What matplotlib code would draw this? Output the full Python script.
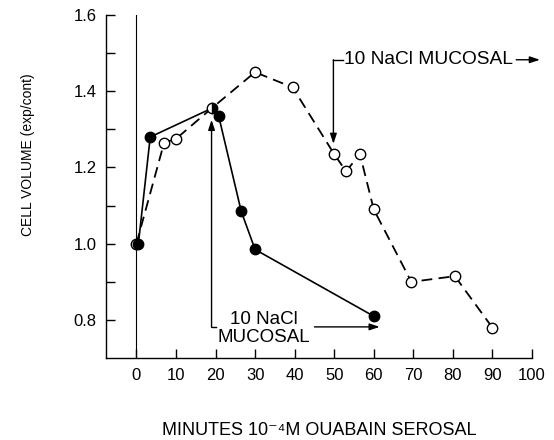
import matplotlib
matplotlib.use("Agg")
import matplotlib.pyplot as plt

plt.rcParams['font.family'] = ['Liberation Sans', 'DejaVu Sans']

# Data
open_x = [0, 7, 10, 19, 30, 39.5, 50, 53, 56.5, 60, 69.5, 80.5, 90]
open_y = [1.0, 1.265, 1.275, 1.355, 1.45, 1.41, 1.235, 1.19, 1.235, 1.09, 0.90, 0.915, 0.78]
filled_x = [0.5, 3.5, 19, 20.8, 26.5, 30, 60]
filled_y = [1.0, 1.28, 1.355, 1.335, 1.085, 0.985, 0.81]
shared_idx = 2  # filled point shared with open series (half-filled marker)

x_ticks = [0, 10, 20, 30, 40, 50, 60, 70, 80, 90, 100]
y_major = [0.8, 1.0, 1.2, 1.4, 1.6]
y_minor = [0.9, 1.1, 1.3, 1.5]

fig = plt.figure(figsize=(5.54, 4.40), dpi=100)
ax = fig.add_axes([0.1922, 0.186, 0.7681, 0.780])

# vertical line at time zero
ax.axvline(0, color='black', lw=0.8, zorder=1)

# filled series (solid)
ax.plot(filled_x, filled_y, '-', color='black', lw=1.2, zorder=2)
# open series (dashed)
ax.plot(open_x, open_y, '--', color='black', lw=1.3, dashes=(6, 3.5), zorder=2)

shared_x = filled_x[shared_idx]
# open markers
ox = [x for x in open_x if x != shared_x]
oy = [y for x, y in zip(open_x, open_y) if x != shared_x]
ax.plot(ox, oy, 'o', ms=7.5, mfc='white', mec='black', mew=1.0, ls='none', zorder=3)
# filled markers
fx = [x for i, x in enumerate(filled_x) if i != shared_idx]
fy = [y for i, y in enumerate(filled_y) if i != shared_idx]
ax.plot(fx, fy, 'o', ms=7.5, mfc='black', mec='black', mew=1.0, ls='none', zorder=4)
# half-filled shared marker
ax.plot([shared_x], [filled_y[shared_idx]], 'o', ms=7.5, fillstyle='right',
        mfc='black', mfcalt='white', mec='black', mew=1.0, ls='none', zorder=5)

ax.set_xlim(-7.56, 100)
ax.set_ylim(0.7, 1.6)
ax.set_xticks(x_ticks)
ax.set_xticklabels([str(t) for t in x_ticks])
ax.set_yticks(y_major)
ax.set_yticklabels([f"{t:.1f}" for t in y_major])
ax.set_yticks(y_minor, minor=True)

for s in ['top', 'right']:
    ax.spines[s].set_visible(False)
for s in ['left', 'bottom']:
    ax.spines[s].set_linewidth(1.0)

ax.tick_params(axis='both', which='both', direction='in', length=6.5, width=1.0, labelsize=12)
ax.tick_params(axis='y', pad=7)
ax.tick_params(axis='x', pad=7)

ax.set_ylabel('CELL VOLUME (exp/cont)', fontsize=10)
ax.yaxis.set_label_coords(-0.168, 0.592)
ax.set_xlabel('MINUTES 10\u207b\u2074M OUABAIN SEROSAL', fontsize=13, labelpad=28)

head = '-|>,head_length=0.6,head_width=0.2'
# lower annotation
ax.annotate('', xy=(19, 1.325), xytext=(19, 0.781),
            arrowprops=dict(arrowstyle=head, color='black', lw=1.0, shrinkA=0, shrinkB=0),
            annotation_clip=False)
ax.plot([19, 20], [0.781, 0.781], color='black', lw=1.0, clip_on=False)
ax.text(32.3, 0.779, '10 NaCl\nMUCOSAL', ha='center', va='center', fontsize=13.5,
        linespacing=1.08)
ax.annotate('', xy=(61.5, 0.782), xytext=(45, 0.782),
            arrowprops=dict(arrowstyle=head, color='black', lw=1.0, shrinkA=0, shrinkB=0),
            annotation_clip=False)

# upper annotation
ax.annotate('', xy=(49.8, 1.262), xytext=(49.8, 1.4825),
            arrowprops=dict(arrowstyle=head, color='black', lw=1.0, shrinkA=0, shrinkB=0),
            annotation_clip=False)
ax.plot([49.8, 52.2], [1.4825, 1.4825], color='black', lw=1.0, clip_on=False)
ax.text(52.4, 1.4825, '10 NaCl MUCOSAL', ha='left', va='center', fontsize=13.8)
ax.annotate('', xy=(102, 1.4825), xytext=(96, 1.4825),
            arrowprops=dict(arrowstyle=head, color='black', lw=1.0, shrinkA=0, shrinkB=0),
            annotation_clip=False)

fig.savefig('out.png', dpi=100)
